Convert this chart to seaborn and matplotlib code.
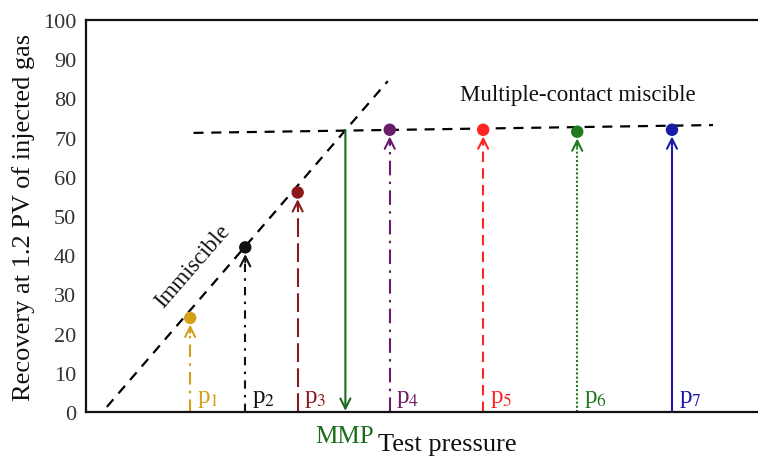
import matplotlib
matplotlib.use("Agg")
import matplotlib.pyplot as plt
import seaborn as sns
import pandas as pd

# Test pressures (arbitrary pressure units) and recovery at 1.2 PV (%)
pressures = [15.5, 23.7, 31.5, 45.2, 59.1, 73.1, 87.2]
recovery = [24, 42, 56, 72, 72, 71.5, 72]
labels = ["1", "2", "3", "4", "5", "6", "7"]
colors = ["#D4A017", "#111111", "#8B1A1A", "#6A1B6A", "#FF2424", "#1F7A1F", "#1A1AA6"]
styles = [(0, (6, 3, 1.2, 3)), (0, (4, 3, 1.2, 3)), (0, (9, 3)),
          (0, (7, 3, 1.2, 3)), (0, (5, 3)), (0, (1, 1)), "solid"]

# Trend lines: immiscible branch and multiple-contact miscible plateau
immiscible_x = [3.1, 44.9]
immiscible_y = [1.3, 84.4]
miscible_x = [16.0, 93.3]
miscible_y = [71.2, 73.2]

# Minimum miscibility pressure
mmp_x = 38.6
mmp_y = 71.9
mmp_color = "#1A6B1A"

yticks = list(range(0, 101, 10))

sns.set_theme(style="white")
plt.rcParams["font.family"] = ["Liberation Serif", "DejaVu Serif"]
plt.rcParams["mathtext.fontset"] = "stix"

fig = plt.figure(figsize=(7.58, 4.64), dpi=100)
ax = fig.add_axes([86 / 758, 51 / 464, 672 / 758, 392 / 464])

trend = pd.DataFrame({"x": immiscible_x + miscible_x,
                      "y": immiscible_y + miscible_y,
                      "branch": ["imm", "imm", "mis", "mis"]})
for name, grp in trend.groupby("branch"):
    sns.lineplot(data=grp, x="x", y="y", ax=ax, color="black", lw=1.6,
                 linestyle=(0, (4.5, 3.5)), legend=False)

for x, y, c, ls, lab in zip(pressures, recovery, colors, styles, labels):
    ax.plot([x, x], [0, y - 2.5], color=c, lw=1.5, linestyle=ls,
            solid_capstyle="butt")
    ax.annotate("", xy=(x, y - 1.0), xytext=(x, y - 4.5),
                arrowprops=dict(arrowstyle="->", color=c, lw=1.5,
                                mutation_scale=18))
    ax.text(x + 1.0, 0.8, rf"p$_{{{lab}}}$", color=c, fontsize=18,
            ha="left", va="bottom")

pts = pd.DataFrame({"x": pressures, "y": recovery, "c": colors})
sns.scatterplot(data=pts, x="x", y="y", hue="c", palette=dict(zip(colors, colors)),
                s=80, edgecolor="none", ax=ax, legend=False, zorder=5)

# MMP drop line
ax.annotate("", xy=(mmp_x, 0.3), xytext=(mmp_x, mmp_y),
            arrowprops=dict(arrowstyle="->", color=mmp_color, lw=1.5,
                            mutation_scale=18, shrinkA=0, shrinkB=0))

ax.text(mmp_x - 0.1, -3.3, "MMP", color=mmp_color, fontsize=18,
        ha="center", va="top", clip_on=False)
ax.text(53.7, -5.3, "Test pressure", color="#111111", fontsize=19,
        ha="center", va="top", clip_on=False)
ax.text(73.2, 81.0, "Multiple-contact miscible", color="#111111",
        fontsize=16.5, ha="center", va="center")
ax.text(15.9, 37.3, "Immiscible", color="#111111", fontsize=16.5,
        rotation=49, ha="center", va="center", rotation_mode="anchor")

ax.set_xlim(0, 100)
ax.set_ylim(0, 100)
ax.set_xticks([])
ax.set_yticks(yticks)
ax.set_yticklabels([str(t) for t in yticks], fontsize=16, color="#333333")
ax.tick_params(axis="y", length=0, pad=7)
ax.set_xlabel("")
ax.set_ylabel("Recovery at 1.2 PV of injected gas", fontsize=19,
              color="#111111", labelpad=6)
for side in ("left", "top", "bottom"):
    ax.spines[side].set_visible(True)
    ax.spines[side].set_color("#111111")
    ax.spines[side].set_linewidth(1.6)
ax.spines["right"].set_visible(False)

fig.savefig("out.png", dpi=100)
